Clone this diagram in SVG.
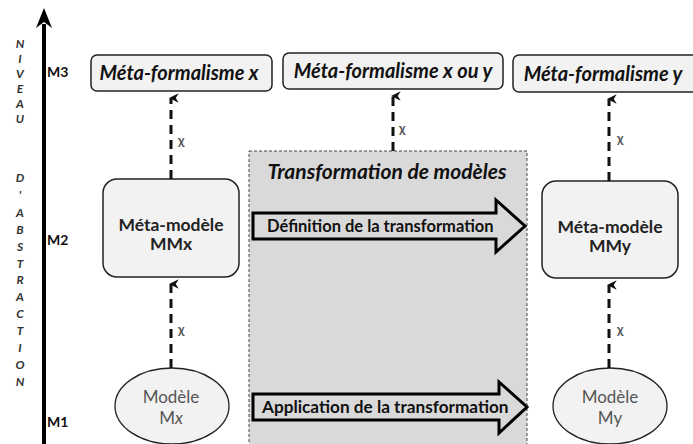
<svg xmlns="http://www.w3.org/2000/svg" width="693" height="444" viewBox="0 0 693 444">
<defs>
<marker id="ah" viewBox="0 0 10 10" refX="5" refY="2" markerWidth="3.2" markerHeight="3.2" orient="auto-start-reverse" markerUnits="strokeWidth">
<path d="M0,10 L5,0 L10,10 L5,7 Z" fill="#111"/>
</marker>
<style>
.f{font-family:Lato,"Open Sans","Liberation Sans",sans-serif}
.box{fill:#f2f2f2;stroke:#222;stroke-width:1.5}
.bt{font-weight:bold;font-style:italic;font-size:20px;fill:#111;text-anchor:middle}
.mm{font-weight:bold;font-size:17.5px;fill:#222;text-anchor:middle}
.el{fill:#f2f2f2;stroke:#222;stroke-width:1.3}
.et{font-size:17px;fill:#555;text-anchor:middle}
.dash{stroke:#111;stroke-width:3;stroke-dasharray:9,6;fill:none}
.chi{font-size:13px;fill:#555;font-weight:bold}
.lv{font-weight:bold;font-size:14px;fill:#111}
.vt{font-weight:bold;font-style:italic;font-size:12px;fill:#333;text-anchor:middle}
.arr{fill:#d9d9d9;stroke:#000;stroke-width:3;stroke-linejoin:miter}
.at{font-weight:bold;fill:#111}
</style>
</defs>

<g id="axis">
<line x1="44" y1="444" x2="44" y2="24" stroke="#000" stroke-width="4"/>
<path d="M44,8 L36,28 L44,22 L52,28 Z" fill="#000"/>
<g class="f vt">
<text x="20" y="48">N</text>
<text x="20" y="63">I</text>
<text x="20" y="78">V</text>
<text x="20" y="93">E</text>
<text x="20" y="108">A</text>
<text x="20" y="123">U</text>
<text x="20" y="182">D</text>
<text x="20" y="199">'</text>
<text x="20" y="217">A</text>
<text x="20" y="234">B</text>
<text x="20" y="251">S</text>
<text x="20" y="268">T</text>
<text x="20" y="284">R</text>
<text x="20" y="301">A</text>
<text x="20" y="318">C</text>
<text x="20" y="335">T</text>
<text x="20" y="352">I</text>
<text x="20" y="369">O</text>
<text x="20" y="386">N</text>
</g>
<text class="f lv" x="47" y="77">M3</text>
<text class="f lv" x="47" y="245">M2</text>
<text class="f lv" x="47" y="427">M1</text>
</g>

<g id="transformation">
<rect x="249" y="151" width="278" height="300" fill="#d9d9d9" stroke="#444" stroke-width="1" stroke-dasharray="3,2"/>
<text class="f" x="387" y="179" font-weight="bold" font-style="italic" font-size="21" fill="#111" text-anchor="middle">Transformation de modèles</text>
</g>

<g id="mf-x">
<rect class="box" x="91" y="55" width="181" height="36" rx="6"/>
<text class="f bt" x="179" y="80">Méta-formalisme x</text>
</g>
<g id="mf-xy">
<rect class="box" x="283" y="53" width="220" height="36" rx="6"/>
<text class="f bt" x="393" y="78">Méta-formalisme x ou y</text>
</g>
<g id="mf-y">
<rect class="box" x="513" y="55" width="185" height="37" rx="6"/>
<text class="f bt" x="603" y="81">Méta-formalisme y</text>
</g>

<g id="mmx">
<rect class="box" x="103" y="179" width="136" height="98" rx="14"/>
<text class="f mm" x="171" y="231">Méta-modèle</text>
<text class="f mm" x="171" y="250">MMx</text>
</g>
<g id="mmy">
<rect class="box" x="542" y="181" width="136" height="97" rx="14"/>
<text class="f mm" x="610" y="233">Méta-modèle</text>
<text class="f mm" x="610" y="252">MMy</text>
</g>

<g id="mx">
<ellipse class="el" cx="172" cy="406" rx="57" ry="38"/>
<text class="f et" x="171" y="403">Modèle</text>
<text class="f et" x="171" y="424">M<tspan font-style="italic">x</tspan></text>
</g>
<g id="my">
<ellipse class="el" cx="610" cy="406" rx="57" ry="38"/>
<text class="f et" x="610" y="403">Modèle</text>
<text class="f et" x="610" y="424">My</text>
</g>

<g id="def-arrow">
<path class="arr" d="M253,213 L496,213 L496,200 L525,226 L496,252 L496,239 L253,239 Z"/>
<text class="f at" x="267" y="232" font-size="16.5">Définition de la transformation</text>
</g>
<g id="app-arrow">
<path class="arr" d="M253,394 L499,394 L499,382 L527,407 L499,433 L499,420 L253,420 Z"/>
<text class="f at" x="262" y="413" font-size="17.2">Application de la transformation</text>
</g>

<g id="connectors">
<line class="dash" x1="171" y1="368" x2="171" y2="284" marker-end="url(#ah)"/>
<line class="dash" x1="171" y1="179" x2="171" y2="98" marker-end="url(#ah)"/>
<line class="dash" x1="393" y1="151" x2="393" y2="96" marker-end="url(#ah)"/>
<line class="dash" x1="609" y1="181" x2="609" y2="99" marker-end="url(#ah)"/>
<line class="dash" x1="609" y1="368" x2="609" y2="285" marker-end="url(#ah)"/>
<g class="f chi">
<text x="178" y="145">χ</text>
<text x="399" y="133">χ</text>
<text x="617" y="143">χ</text>
<text x="178" y="334">χ</text>
<text x="617" y="334">χ</text>
</g>
</g>
</svg>
